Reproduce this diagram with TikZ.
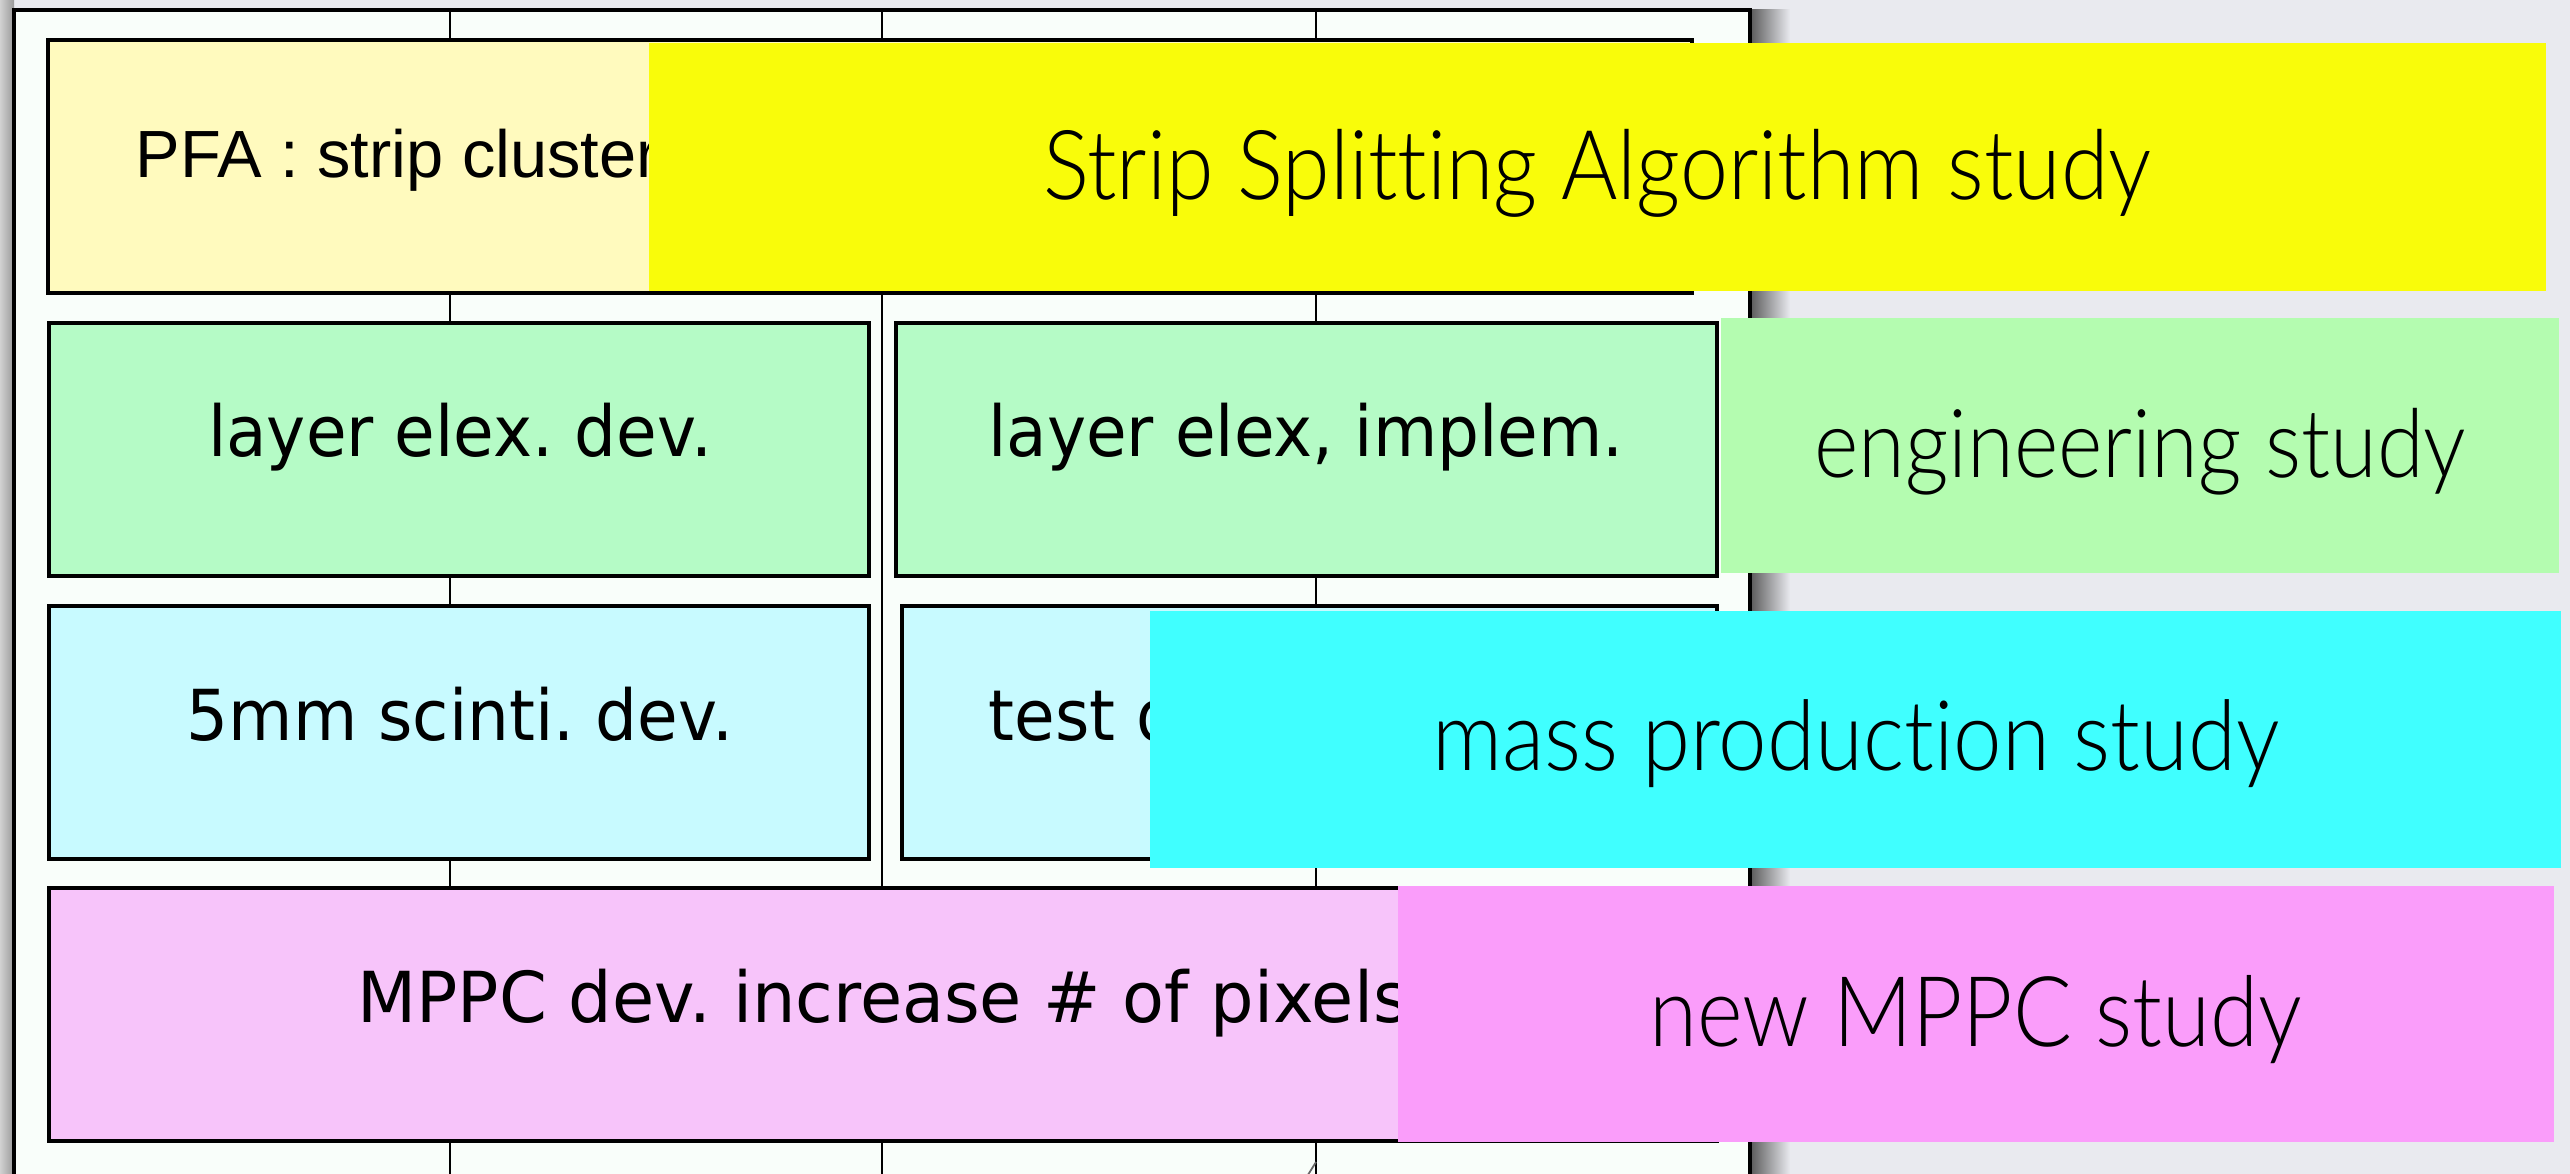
\documentclass[tikz,border=0pt]{standalone}
\usepackage{fontspec}
\usepackage{graphicx}
\setmainfont{DejaVu Sans}
\newfontfamily\arialf{Liberation Sans}
\newfontfamily\dvs{DejaVu Sans}
\newfontfamily\gill{Lato Light}[Ligatures=NoCommon]
\definecolor{bggrey}{RGB}{233,234,239}
\definecolor{framefill}{RGB}{249,254,250}
\definecolor{pfafill}{RGB}{255,250,190}
\definecolor{greenfill}{RGB}{181,251,198}
\definecolor{cyanfill}{RGB}{200,250,255}
\definecolor{pinkfill}{RGB}{247,196,250}
\definecolor{ovyellow}{RGB}{249,252,10}
\definecolor{ovgreen}{RGB}{180,252,176}
\definecolor{ovcyan}{RGB}{64,255,255}
\definecolor{ovpink}{RGB}{250,157,250}
\tikzset{
  taskbox/.style={draw=black, line width=1.1pt, inner sep=0pt, outer sep=0pt, anchor=north west},
  overlaybox/.style={draw=none, inner sep=0pt, outer sep=0pt, anchor=north west},
  gridline/.style={draw=black, line width=0.8pt},
  tasktext/.style={inner sep=0pt, anchor=base, font=\dvs\fontsize{20}{24}\selectfont},
  ovtext/.style={inner sep=0pt, anchor=base, font=\gill\fontsize{27}{32}\selectfont},
}
\newcommand{\sq}[2][0.94]{\scalebox{#1}[1]{#2}}
\newcommand{\ovt}[2]{\resizebox{#1}{!}{\scalebox{1}[1.12]{#2}}}
\frenchspacing
\begin{document}
\begin{tikzpicture}[x=0.1mm,y=-0.1mm]
\useasboundingbox (0,0) rectangle (2570,1174);
\clip (0,0) rectangle (2570,1174);
% background
\fill[bggrey] (0,0) rectangle (2570,1174);
\shade[left color=black!18, right color=black!40] (0,0) rectangle (14,1174);
\shade[left color=black!65, right color=bggrey] (1750,10) rectangle (1790,1174);
% frame
\node[taskbox, fill=framefill, minimum width=173.6mm, minimum height=118mm] (frame) at (14,10) {};
% grid lines
\coordinate (v1t) at (450,10);  \coordinate (v1b) at (450,1174);
\coordinate (v2t) at (882,10);  \coordinate (v2b) at (882,1174);
\coordinate (v3t) at (1316,10); \coordinate (v3b) at (1316,1174);
\draw[gridline] (v1t) -- (v1b);
\draw[gridline] (v2t) -- (v2b);
\draw[gridline] (v3t) -- (v3b);
\coordinate (tka) at (1306,1178); \coordinate (tkb) at (1316,1162);
\draw[black!60, line width=0.5pt] (tka) -- (tkb);
% task boxes
\node[taskbox, fill=pfafill, minimum width=164.4mm, minimum height=25.3mm] (pfa) at (48,40) {};
\node[taskbox, fill=greenfill, minimum width=82.0mm, minimum height=25.3mm] (g1) at (49,323) {};
\node[taskbox, fill=greenfill, minimum width=82.1mm, minimum height=25.3mm] (g2) at (896,323) {};
\node[taskbox, fill=cyanfill, minimum width=82.0mm, minimum height=25.3mm] (c1) at (49,606) {};
\node[taskbox, fill=cyanfill, minimum width=81.5mm, minimum height=25.3mm] (c2) at (902,606) {};
\node[taskbox, fill=pinkfill, minimum width=166.8mm, minimum height=25.3mm] (mp) at (49,888) {};
% task texts
\node[inner sep=0pt, anchor=base west, font=\arialf\fontsize{19}{23}\selectfont] (tpfa) at (135,178) {PFA : strip cluster};
\node[tasktext] (tg1) at (460,456) {\sq{layer elex. dev.}};
\node[tasktext] (tg2) at (1306,456) {\sq{layer elex, implem.}};
\node[tasktext] (tc1) at (460,740) {\sq{5mm scinti. dev.}};
\node[tasktext, anchor=base west] (tc2) at (988,740) {\sq{test d}};
\node[tasktext] (tmp) at (883,1022) {\sq[0.975]{MPPC dev. increase \# of pixels}};
% overlays
\node[overlaybox, fill=ovyellow, minimum width=189.7mm, minimum height=24.8mm] (oy) at (649,43) {};
\node[overlaybox, fill=ovgreen, minimum width=83.8mm, minimum height=25.5mm] (og) at (1721,318) {};
\node[overlaybox, fill=ovcyan, minimum width=141.1mm, minimum height=25.7mm] (oc) at (1150,611) {};
\node[overlaybox, fill=ovpink, minimum width=115.6mm, minimum height=25.6mm] (op) at (1398,886) {};
\node[ovtext] (toy) at (1597,199) {\ovt{110.8mm}{Strip Split\kern0pt t\kern0pt ing Algorithm study}};
\node[ovtext] (tog) at (2140,477) {\ovt{65.2mm}{engineering study}};
\node[ovtext] (toc) at (1856,770) {\ovt{84.7mm}{mass produc\kern0pt t\kern0pt ion study}};
\node[ovtext] (top) at (1976,1046) {\ovt{65.3mm}{new MPPC study}};
\end{tikzpicture}
\end{document}
